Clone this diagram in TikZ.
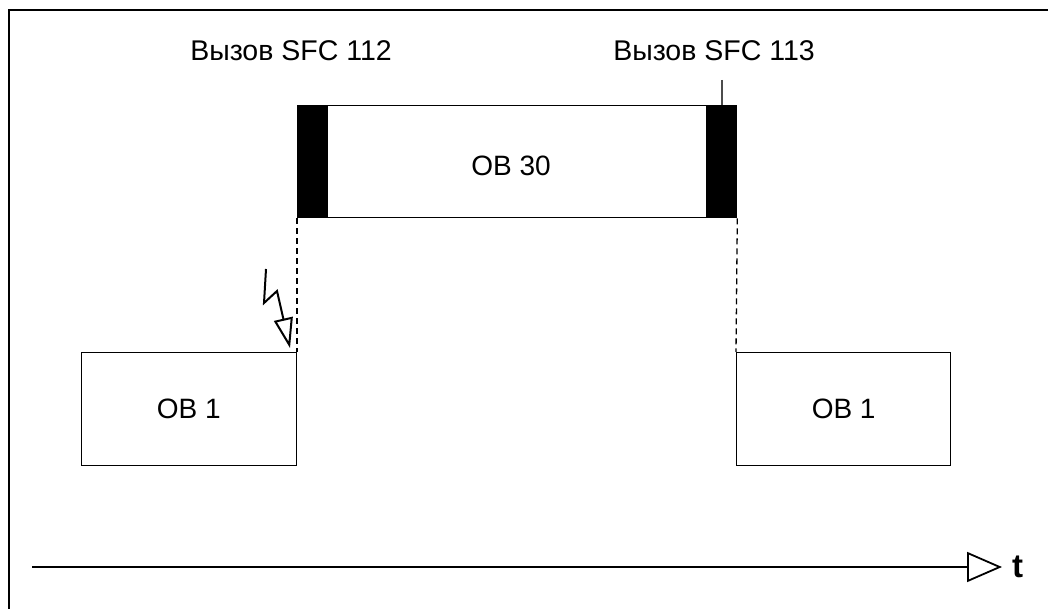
\documentclass[tikz,border=0pt]{standalone}
\usepackage{fontspec}
\setmainfont{Liberation Sans}
\usetikzlibrary{arrows.meta,positioning}
\tikzset{
  obbox/.style={draw, line width=1.3pt, inner sep=0pt, font=\fontsize{28}{32}\selectfont},
  callbar/.style={draw, fill=black, line width=1.3pt, minimum width=30pt, minimum height=112pt, inner sep=0pt},
  calltag/.style={font=\fontsize{28.5}{32}\selectfont, inner sep=0pt},
  sync/.style={line width=1.3pt, dash pattern=on 6pt off 4pt},
  flash/.style={line width=2pt, line join=miter, -{Triangle[open, length=30pt, width=19pt]}},
  timeaxis/.style={line width=1.8pt, -{Triangle[open, length=35pt, width=30pt]}},
  frameline/.style={line width=2.6pt}
}
\begin{document}
\begin{tikzpicture}[x=1pt, y=-1pt]
  \useasboundingbox (0,0) rectangle (1048,609);
  \draw[frameline] (9,609) -- (9,10) -- (1048,10);
  % interrupt OB
  \node[obbox, minimum width=439pt, minimum height=112pt, anchor=north west] (ob30) at (297,105) {};
  \node[callbar, anchor=west] (sfc112) at (ob30.west) {};
  \node[callbar, anchor=east] (sfc113) at (ob30.east) {};
  \node[obbox, draw=none] (ob30text) at (511,166) {OB 30};
  \node[calltag] (lab112) at (291,51) {Вызов SFC 112};
  \node[calltag] (lab113) at (714,51) {Вызов SFC 113};
  \coordinate (tick) at (722,80);
  \draw[line width=1.6pt, black!70] (tick) -- (tick |- ob30.north);
  % cyclic OB
  \node[obbox, minimum width=215pt, minimum height=113pt, anchor=north east] (ob1a) at (297,352) {OB 1};
  \node[obbox, minimum width=214pt, minimum height=113pt, anchor=north west] (ob1b) at (736,352) {OB 1};
  \draw[sync] (ob30.south west) -- (ob1a.north east);
  \draw[sync] (ob30.south east) -- (ob1b.north west);
  % interrupt event
  \coordinate (f1) at (266,269);
  \coordinate (f2) at (264,303);
  \coordinate (f3) at (277,291);
  \coordinate (f4) at (290,348);
  \draw[flash] (f1) -- (f2) -- (f3) -- (f4);
  % time axis
  \coordinate (t0) at (32,567);
  \coordinate (t1) at (1002,567);
  \draw[timeaxis] (t0) -- (t1);
  \node[right=10pt of t1, inner sep=0pt, font=\fontsize{33}{33}\selectfont\bfseries] (tlabel) {t};
\end{tikzpicture}
\end{document}
